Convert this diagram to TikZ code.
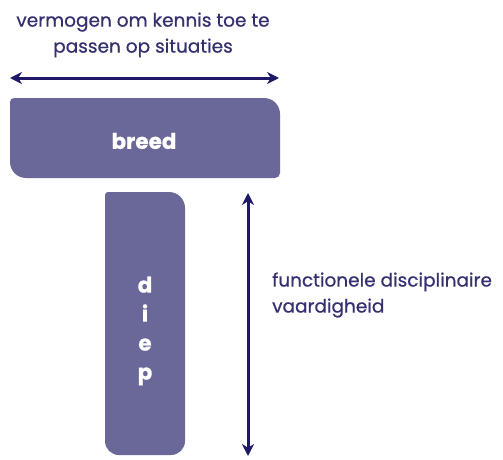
\documentclass[tikz,border=0pt]{standalone}
\usepackage{fontspec}
\setmainfont{Poppins}[FakeBold=0.6]
\usetikzlibrary{arrows.meta}
\definecolor{boxfill}{HTML}{6A6898}
\definecolor{txtcol}{HTML}{34306F}
\definecolor{arrcol}{HTML}{1E1866}
\tikzset{
  dimarrow/.style={draw=arrcol, line width=3pt, {Stealth[length=12pt,width=12pt]}-{Stealth[length=12pt,width=12pt]}},
  lbl/.style={text=txtcol, font=\fontsize{18.5}{26}\selectfont, align=center, inner sep=0pt},
  boxlbl/.style={text=white, font=\bfseries\fontsize{21.5}{29}\selectfont, align=center, inner sep=0pt}
}
\begin{document}
\begin{tikzpicture}[x=1pt,y=-1pt]
\useasboundingbox (0,0) rectangle (503,460);
% breed box
\fill[boxfill] (10,140) [rounded corners=4pt] -- (10,98) [rounded corners=16pt] -- (280,98) [rounded corners=5pt] -- (280,178) [rounded corners=16pt] -- (10,178) -- cycle;
\node[boxlbl] (breed) at (144,141) {breed};
% diep box
\fill[boxfill] (105,300) [rounded corners=3pt] -- (105,192) [rounded corners=16pt] -- (185,192) [rounded corners=14pt] -- (185,455) -- (105,455) -- cycle;
\node[boxlbl] (diep) at (145,331) {d\\i\\e\\p};
% top label and arrow
\node[lbl] (toplbl) at (143,35) {vermogen om kennis toe te\\passen op situaties};
\coordinate (hl) at (10,78);
\coordinate (hr) at (279,78);
\draw[dimarrow] (hl) -- (hr);
% vertical arrow and label
\coordinate (vt) at (248,193);
\coordinate (vb) at (248,456);
\draw[dimarrow] (vt) -- (vb);
\node[lbl, anchor=west, align=left] (rightlbl) at (272,295) {functionele disciplinaire\\vaardigheid};
\end{tikzpicture}
\end{document}
